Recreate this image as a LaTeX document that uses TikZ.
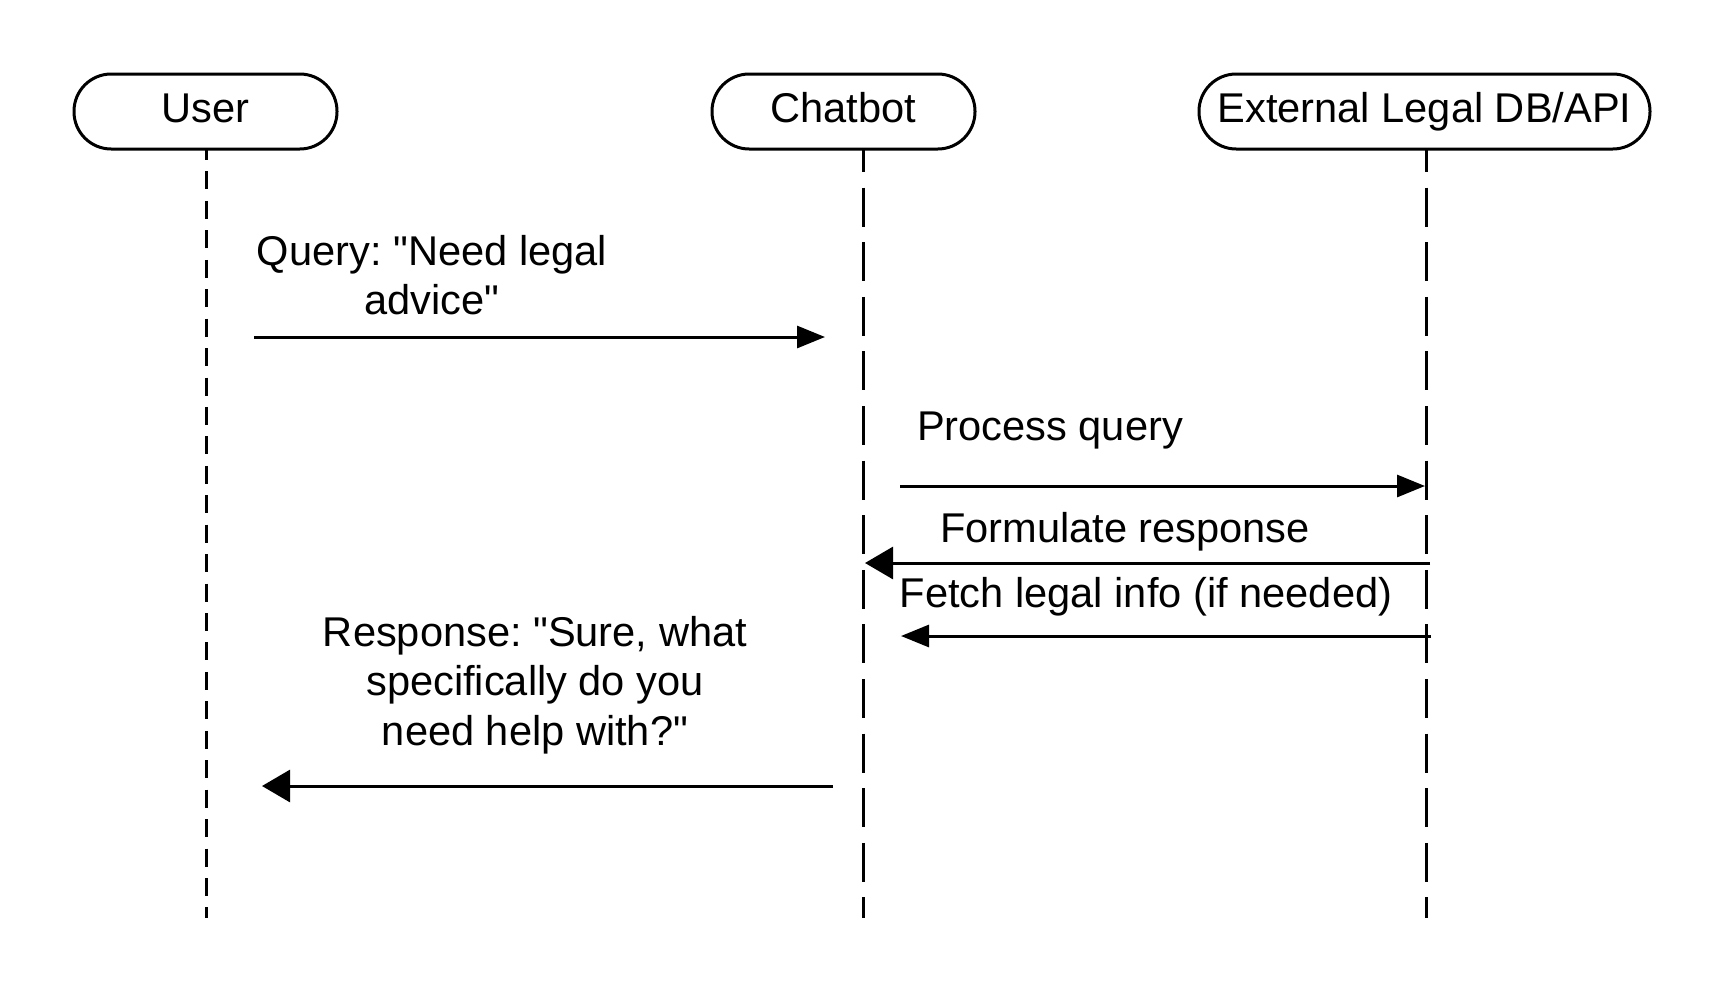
\documentclass[tikz,border=0pt]{standalone}
\usepackage{fontspec}
\newfontfamily\lfont{Liberation Sans}
\usetikzlibrary{arrows.meta}
\frenchspacing
\begin{document}
\begin{tikzpicture}[x=0.5pt,y=-0.5pt,
  actor/.style={draw,line width=1.5pt,rounded corners=18.6pt,minimum height=37.5pt,inner sep=0pt,text height=15pt,text depth=4.4pt,font=\lfont\fontsize{20.8}{24.75}\selectfont},
  lifeshort/.style={line width=1.5pt,dash pattern=on 9pt off 5.72pt,dash phase=4pt},
  lifelong/.style={line width=1.5pt,dash pattern=on 19.5pt off 7.8pt,dash phase=8.5pt},
  msg/.style={line width=1.5pt,-{Triangle[length=14pt,width=11pt]}},
  msgb/.style={line width=1.5pt,-{Triangle[length=14pt,width=16pt]}},
  lbl/.style={inner sep=0pt,align=center,font=\lfont\frenchspacing\fontsize{20.8}{24.75}\selectfont}]
\useasboundingbox (0,0) rectangle (1725,996);
\fill[white] (0,0) rectangle (1725,996);
% actors
\node[actor,minimum width=131.5pt] (user) at (205.5,111.5) {User};
\node[actor,minimum width=131.5pt] (bot) at (843.5,111.5) {Chatbot};
\node[actor,minimum width=225.5pt] (ext) at (1424.5,111.5) {External Legal DB/API};
% lifelines
\coordinate (uT) at (206,150); \coordinate (uB) at (206,918);
\coordinate (cT) at (863.5,150); \coordinate (cB) at (863.5,918);
\coordinate (eT) at (1426,150); \coordinate (eB) at (1426,918);
\draw[lifeshort] (uT) -- (uB);
\draw[lifelong] (cT) -- (cB);
\draw[lifelong] (eT) -- (eB);
% message end points
\coordinate (m1s) at (254,337); \coordinate (m1e) at (825,337);
\coordinate (m2s) at (900,486); \coordinate (m2e) at (1425,486);
\coordinate (m3s) at (1430,563); \coordinate (m3e) at (865,563);
\coordinate (m4s) at (1431,636); \coordinate (m4e) at (901,636);
\coordinate (m5s) at (833,786); \coordinate (m5e) at (262,786);
\draw[msg] (m1s) -- (m1e);
\draw[msg] (m2s) -- (m2e);
\draw[msgb] (m3s) -- (m3e);
\draw[msg] (m4s) -- (m4e);
\draw[msgb] (m5s) -- (m5e);
% labels
\node[lbl] (l1) at (432,275) {Query: "Need legal\\advice"};
\node[lbl] (l2) at (1050,430) {Process query};
\node[lbl] (l3) at (1125,532) {Formulate response};
\node[lbl] (l4) at (1146,597) {Fetch legal info (if needed)};
\node[lbl] (l5) at (535,685) {Response: "Sure, what\\specifically do you\\need help with?"};
\end{tikzpicture}
\end{document}
